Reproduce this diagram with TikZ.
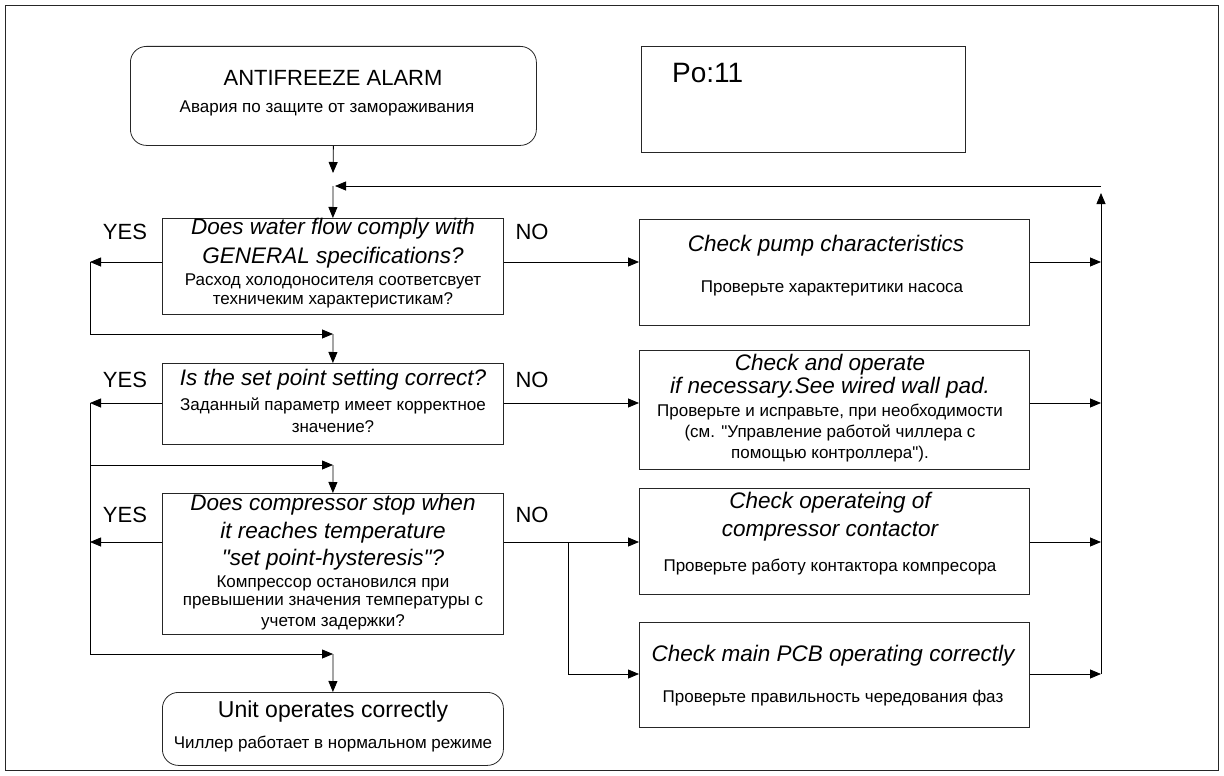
\documentclass[tikz,border=0pt]{standalone}
\usepackage{fontspec}
\setmainfont{Liberation Sans}[Ligatures=TeXOff]
\usetikzlibrary{arrows.meta,calc}
\begin{document}
\begin{tikzpicture}[x=1pt,y=-1pt,
 box/.style={draw=black!85, line width=0.8pt, anchor=north west, inner sep=0pt},
 rbox/.style={box, rounded corners=16pt},
 arr/.style={-{Triangle[length=11pt,width=9pt]}, line width=0.8pt},
 ln/.style={line width=0.8pt},
 en/.style={font=\itshape\fontsize{22.5}{22.5}\selectfont, inner sep=0pt},
 ru/.style={font=\fontsize{17}{17}\selectfont, inner sep=0pt},
 yn/.style={font=\fontsize{22}{22}\selectfont, inner sep=0pt}]
\useasboundingbox (0,0) rectangle (1224,776);
\draw[line width=0.8pt, draw=black!85] (5,5) rectangle (1218,770);

% boxes
\node[rbox, minimum width=406pt, minimum height=99pt] (start) at (130,46) {};
\node[box, minimum width=324pt, minimum height=106pt] (po) at (641,46) {};
\node[box, minimum width=341pt, minimum height=96pt] (q1) at (162,218) {};
\node[box, minimum width=341pt, minimum height=81pt] (q2) at (162,363) {};
\node[box, minimum width=341pt, minimum height=141pt] (q3) at (162,493) {};
\node[rbox, minimum width=341pt, minimum height=73pt] (unit) at (162,692) {};
\node[box, minimum width=390pt, minimum height=106pt] (pump) at (639,219) {};
\node[box, minimum width=390pt, minimum height=119pt] (oper) at (639,350) {};
\node[box, minimum width=390pt, minimum height=106pt] (cont) at (639,488) {};
\node[box, minimum width=390pt, minimum height=105pt] (pcb) at (639,622) {};

% texts
\node[font=\fontsize{22}{22}\selectfont, inner sep=0pt] (t0a) at (333,78) {ANTIFREEZE ALARM};
\node[ru] (t0b) at (327,108) {Авария по защите от замораживания};
\node[font=\fontsize{28}{28}\selectfont, inner sep=0pt, anchor=west] (tpo) at (672,73) {Po:11};

\node[en] (t1a) at (333,229) {Does water flow comply with};
\node[en] (t1b) at (333,258) {GENERAL specifications?};
\node[ru] (t1c) at (333,281) {Расход холодоносителя соответсвует};
\node[ru] (t1d) at (333,300) {техничеким характеристикам?};

\node[en] (t2a) at (333,380) {Is the set point setting correct?};
\node[ru] (t2b) at (333,406) {Заданный параметр имеет корректное};
\node[ru] (t2c) at (333,427) {значение?};

\node[en] (t3a) at (333,505) {Does compressor stop when};
\node[en] (t3b) at (333,533) {it reaches temperature};
\node[en] (t3c) at (333,560) {"set point-hysteresis"?};
\node[ru] (t3d) at (333,583) {Компрессор остановился при};
\node[ru] (t3e) at (333,603) {превышении значения температуры с};
\node[ru] (t3f) at (333,622) {учетом задержки?};

\node[font=\fontsize{23}{23}\selectfont, inner sep=0pt] (t4a) at (333,712) {Unit operates correctly};
\node[ru] (t4b) at (333,744) {Чиллер работает в нормальном режиме};

\node[en] (p1) at (826,246) {Check pump characteristics};
\node[ru] (p2) at (832,288) {Проверьте характеритики насоса};

\node[en] (o1) at (830,365) {Check and operate};
\node[en] (o2) at (830,388) {if necessary.See wired wall pad.};
\node[ru] (o3) at (830,412) {Проверьте и исправьте, при необходимости};
\node[ru] (o4) at (830,433) {(см. "Управление работой чиллера с};
\node[ru] (o5) at (830,454) {помощью контроллера").};

\node[en] (c1) at (830,503) {Check operateing of};
\node[en] (c2) at (830,532) {compressor contactor};
\node[ru] (c3) at (830,567) {Проверьте работу контактора компресора};

\node[en] (b1) at (833,656) {Check main PCB operating correctly};
\node[ru] (b2) at (833,698) {Проверьте правильность чередования фаз};

\node[yn] (y1) at (125,232) {YES};
\node[yn] (y2) at (125,380) {YES};
\node[yn] (y3) at (125,515) {YES};
\node[yn] (n1) at (532,232) {NO};
\node[yn] (n2) at (532,380) {NO};
\node[yn] (n3) at (532,515) {NO};

% helper coordinates
\coordinate (L) at (90,0);
\coordinate (R) at (1101,0);
\coordinate (ya) at (0,262);
\coordinate (yb) at (0,403);
\coordinate (yc) at (0,542);
\coordinate (yd) at (0,674);
\coordinate (j0) at (333,173);
\coordinate (j1) at (333,186);
\coordinate (j2) at (333,334);
\coordinate (j3) at (333,465);
\coordinate (j4) at (333,654);
\coordinate (rt) at (1101,193);
\coordinate (rs) at (1101,186);
\coordinate (jn) at (568,542);
\coordinate (jm) at (568,674);

% connectors
\draw[arr] (start.south) -- (j0);
\draw[arr] (R |- yd) -- (rt);
\draw[arr] (rs) -- ([xshift=2pt]j1);
\draw[arr] (j1) -- (q1.north);

\draw[arr] (q1.west |- ya) -- (L |- ya);
\draw[ln] (L |- ya) -- (L |- j2);
\draw[arr] (L |- j2) -- (j2);
\draw[arr] (j2) -- (q2.north);

\draw[arr] (q2.west |- yb) -- (L |- yb);
\draw[ln] (L |- yb) -- (L |- j4);
\draw[arr] (L |- j3) -- (j3);
\draw[arr] (j3) -- (q3.north);
\draw[arr] (q3.west |- yc) -- (L |- yc);
\draw[arr] (L |- j4) -- (j4);
\draw[arr] (j4) -- (unit.north);

\draw[arr] (q1.east |- ya) -- (pump.west |- ya);
\draw[arr] (q2.east |- yb) -- (oper.west |- yb);
\draw[arr] (q3.east |- yc) -- (cont.west |- yc);
\draw[ln] (jn) -- (jm);
\draw[arr] (jm) -- (pcb.west |- jm);

\draw[arr] (pump.east |- ya) -- (R |- ya);
\draw[arr] (oper.east |- yb) -- (R |- yb);
\draw[arr] (cont.east |- yc) -- (R |- yc);
\draw[arr] (pcb.east |- yd) -- (R |- yd);
\end{tikzpicture}
\end{document}
